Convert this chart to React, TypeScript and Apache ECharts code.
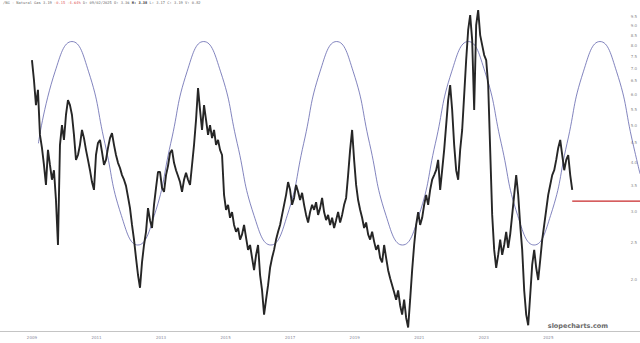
import React, { useEffect, useRef } from 'react';
import * as echarts from 'echarts';

// Price samples: one every PRICE_STEP years, starting at PRICE_START
const PRICE_START = 2009.0;
const PRICE_STEP = 0.062;
const priceValues = [
  7.35, 6.53, 5.63, 6.16, 4.72, 4.37, 3.95, 3.51, 4.32, 3.95, 3.62, 3.83, 3.21, 2.46, 4.45, 5.0,
  4.58, 5.31, 5.8, 5.63, 5.31, 4.72, 4.07, 4.19, 4.45, 4.86, 4.63, 4.32, 4.07, 3.83, 3.57, 3.41,
  4.19, 4.5, 4.58, 4.27, 3.95, 4.07, 4.37, 4.63, 4.77, 4.45, 4.19, 4.0, 3.88, 3.72, 3.62, 3.49,
  3.27, 3.06, 2.77, 2.54, 2.28, 2.06, 1.91, 2.22, 2.46, 2.66, 3.06, 2.85, 2.72, 3.12, 3.45, 3.79,
  3.79, 3.45, 3.37, 3.72, 3.93, 4.24, 4.32, 4.0, 3.83, 3.7, 3.57, 3.37, 3.62, 3.77, 3.62, 3.51,
  3.95, 4.45, 5.16, 6.23, 5.47, 4.86, 5.63, 5.16, 4.72, 5.0, 4.63, 4.86, 4.45, 4.58, 4.32, 4.19,
  3.31, 3.03, 3.12, 2.89, 2.99, 2.77, 2.66, 2.72, 2.54, 2.62, 2.77, 2.57, 2.39, 2.46, 2.28, 2.12,
  2.32, 2.46, 2.06, 1.88, 1.63, 1.78, 1.94, 2.15, 2.28, 2.39, 2.54, 2.66, 2.77, 2.94, 3.12, 3.31,
  3.57, 3.41, 3.12, 3.25, 3.51, 3.37, 3.21, 3.35, 3.12, 2.94, 2.81, 2.99, 3.12, 3.03, 3.17, 2.94,
  3.06, 3.25, 2.99, 2.85, 2.94, 2.77, 2.89, 2.72, 2.85, 2.99, 2.81, 2.94, 3.12, 3.25, 3.72, 4.32,
  4.86, 4.07, 3.51, 3.21, 3.03, 2.89, 2.72, 2.81, 2.62, 2.54, 2.66, 2.51, 2.39, 2.46, 2.28, 2.22,
  2.46, 2.28, 2.12, 2.02, 1.94, 1.86, 1.78, 1.88, 1.72, 1.63, 1.78, 1.6, 1.51, 1.78, 2.12, 2.46,
  2.77, 2.99, 2.77, 2.89, 3.12, 3.31, 3.12, 3.41, 3.62, 3.72, 3.83, 4.07, 3.41, 3.83, 4.32, 5.0,
  5.8, 6.34, 5.47, 4.45, 3.83, 3.62, 4.32, 4.86, 5.97, 7.35, 8.78, 9.59, 8.27, 5.47, 9.04, 9.88,
  8.52, 8.03, 7.57, 7.35, 6.34, 4.32, 2.94, 2.39, 2.15, 2.32, 2.54, 2.32, 2.46, 2.66, 2.42, 2.62,
  2.94, 3.31, 3.72, 3.31, 2.77, 2.39, 1.88, 1.63, 1.53, 1.83, 2.19, 2.39, 2.15, 2.0, 2.25, 2.54,
  2.77, 3.03, 3.31, 3.51, 3.72, 3.83, 4.07, 4.37, 4.58, 4.19, 3.83, 4.07, 4.19, 3.72, 3.41,
];
const lastPrice = 3.19;

// Cycle overlay points (date, value)
const cycleDates = [
  2009.2, 2009.72, 2010.24, 2010.75, 2011.26, 2011.77, 2012.28, 2012.79, 2013.3, 2013.81,
  2014.32, 2014.84, 2015.36, 2015.88, 2016.4, 2016.91, 2017.42, 2017.93, 2018.44, 2018.95,
  2019.46, 2019.97, 2020.48, 2020.99, 2021.5, 2022.01, 2022.52, 2023.03, 2023.54, 2024.05,
  2024.56, 2025.07, 2025.58, 2026.09, 2026.6, 2027.11, 2027.62, 2027.84,
];
const cycleValues = [
  4.49, 6.88, 8.2, 6.88, 4.49, 2.93, 2.46, 2.93, 4.49, 6.88,
  8.2, 6.88, 4.49, 2.93, 2.46, 2.93, 4.49, 6.88, 8.2, 6.88,
  4.49, 2.93, 2.46, 2.93, 4.49, 6.88, 8.2, 6.88, 4.49, 2.93,
  2.46, 2.93, 4.49, 6.88, 8.2, 6.88, 4.49, 3.75,
];

const yearTicks = [2009, 2011, 2013, 2015, 2017, 2019, 2021, 2023, 2025];
const priceTicks = [2, 2.5, 3, 3.5, 4, 4.5, 5, 5.5, 6, 6.5, 7, 7.5, 8, 8.5, 9, 9.5];

const X_MIN = 2008.01;
const X_MAX = 2027.84;
const Y_MIN = 1.479;
const Y_MAX = 10;

export default function App() {
  const ref = useRef<HTMLDivElement>(null);
  useEffect(() => {
    document.body.style.margin = '0';
    const chart = echarts.init(ref.current as HTMLDivElement, null, { renderer: 'svg' });
    const priceData = priceValues.map((v, i) => [PRICE_START + i * PRICE_STEP, v]);
    const lastDate = PRICE_START + (priceValues.length - 1) * PRICE_STEP;
    const cycleData = cycleDates.map((d, i) => [d, cycleValues[i]]);
    chart.setOption({
      animation: false,
      backgroundColor: '#ffffff',
      grid: { left: 0, right: 0, top: 8, bottom: 12, containLabel: false, outerBoundsMode: 'none' },
      xAxis: {
        type: 'value',
        min: X_MIN,
        max: X_MAX,
        axisLine: { show: true, lineStyle: { color: '#c4c4c4', width: 1 } },
        axisTick: { show: false },
        splitLine: { show: false },
        axisLabel: {
          customValues: yearTicks,
          formatter: (v: number) => String(Math.round(v)),
          fontSize: 4,
          color: '#8a8a9a',
          margin: 4,
          fontFamily: 'DejaVu Sans',
        },
      },
      yAxis: {
        type: 'log',
        position: 'right',
        min: Y_MIN,
        max: Y_MAX,
        axisLine: { show: false },
        axisTick: { show: false },
        splitLine: { show: false },
        axisLabel: {
          inside: true,
          customValues: priceTicks,
          formatter: (v: number) => v.toFixed(1),
          fontSize: 4,
          color: '#8a8a8a',
          margin: 3,
          fontFamily: 'DejaVu Sans',
        },
      },
      series: [
        {
          type: 'line',
          data: cycleData,
          smooth: 0.5,
          showSymbol: false,
          lineStyle: { color: '#6264ad', width: 0.8 },
          z: 1,
        },
        {
          type: 'line',
          data: priceData,
          showSymbol: false,
          lineStyle: { color: '#262626', width: 1.9 },
          z: 2,
        },
        {
          type: 'line',
          data: [
            [lastDate, lastPrice],
            [X_MAX, lastPrice],
          ],
          showSymbol: false,
          lineStyle: { color: '#c8282a', width: 1.3 },
          z: 3,
        },
      ],
      graphic: [
        {
          type: 'text',
          left: 3,
          top: 1,
          style: {
            text: '{a|/NG - Natural Gas 3.19 }{r|-0.15 -4.64%}{a| D: 09/02/2025 O: 3.36 }{b|H: 3.38}{a| L: 3.17 C: 3.19 V: 0.82}',
            rich: {
              a: { fontSize: 3.7, fontFamily: 'DejaVu Sans Mono', fill: '#6a6a6a' },
              r: { fontSize: 3.7, fontFamily: 'DejaVu Sans Mono', fill: '#e05a5a' },
              b: { fontSize: 3.7, fontFamily: 'DejaVu Sans Mono', fill: '#333333', fontWeight: 'bold' },
            },
          },
        },
        {
          type: 'text',
          right: 32,
          bottom: 14,
          style: {
            text: 'slopecharts.com',
            fontSize: 6.5,
            fontWeight: 'bold',
            fontFamily: 'DejaVu Sans',
            fill: '#6a6a6a',
          },
        },
      ],
    });
    return () => chart.dispose();
  }, []);
  return <div ref={ref} style={{ position: 'absolute', left: 0, top: 0, width: 640, height: 343 }} />;
}
